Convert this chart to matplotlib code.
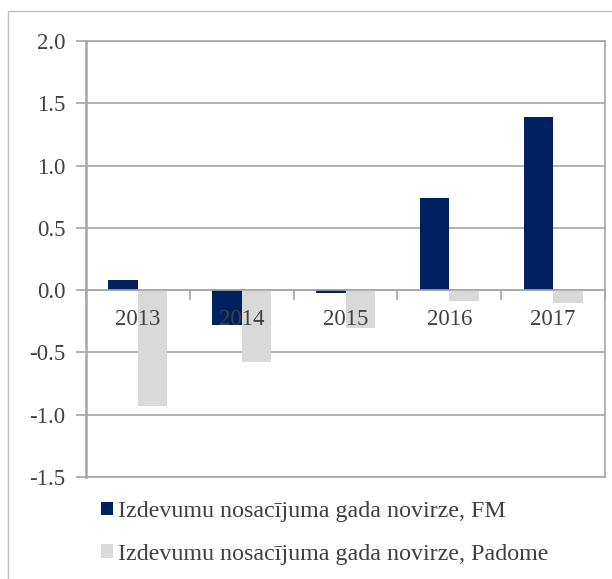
import matplotlib
matplotlib.use("Agg")
import matplotlib.pyplot as plt
import matplotlib.patches as mpatches
import numpy as np

years = ["2013", "2014", "2015", "2016", "2017"]
fm_values = [0.08, -0.28, -0.02, 0.74, 1.39]
padome_values = [-0.93, -0.58, -0.30, -0.09, -0.10]
series_labels = ["Izdevumu nosacījuma gada novirze, FM",
                 "Izdevumu nosacījuma gada novirze, Padome"]
y_ticks = [-1.5, -1.0, -0.5, 0.0, 0.5, 1.0, 1.5, 2.0]

navy = "#002060"
light = "#D9D9D9"
grid_c = "#A6A6A6"
text_c = "#404040"

plt.rcParams["font.family"] = ["Liberation Serif", "DejaVu Serif"]

fig = plt.figure(figsize=(6.12, 5.79), dpi=100)
W, H = 612, 579
ax = fig.add_axes([86 / W, 1 - 477 / H, (605 - 86) / W, (477 - 41) / H])

# figure frame
fig.patches.append(mpatches.Rectangle((8 / W, -0.05), 1.2, 1 - 11 / H + 0.05,
                                      transform=fig.transFigure, fill=False,
                                      edgecolor="#BFBFBF", linewidth=1.0))

x = np.arange(len(years))
bw = 0.284
ax.bar(x - bw / 2, fm_values, bw, color=navy, zorder=2, label=series_labels[0])
ax.bar(x + bw / 2, padome_values, bw, color=light, zorder=2, label=series_labels[1])

ax.set_ylim(-1.5, 2.0)
ax.set_xlim(-0.5, len(years) - 0.5)
ax.set_yticks(y_ticks)
ax.set_yticklabels([f"{v:.1f}" for v in y_ticks], fontsize=16.5, color=text_c)
ax.yaxis.grid(True, color=grid_c, linewidth=1.2)
ax.set_axisbelow(True)
ax.tick_params(axis="y", direction="out", length=7, width=1.2, color=grid_c, pad=8)

# x axis at zero
ax.spines["bottom"].set_position(("data", 0))
ax.spines["bottom"].set_color(grid_c)
ax.spines["bottom"].set_linewidth(1.2)
ax.spines["bottom"].set_zorder(3)
ax.set_xticks(np.arange(len(years) + 1) - 0.5)
ax.set_xticklabels([])
ax.tick_params(axis="x", direction="out", length=7, width=1.2, color=grid_c)
for i, yl in enumerate(years):
    ax.text(i, -0.15, yl, ha="center", va="top", fontsize=16.5, color=text_c, zorder=5)

for s in ["left", "right", "top"]:
    ax.spines[s].set_color(grid_c)
    ax.spines[s].set_linewidth(1.2)
ax.spines["left"].set_linewidth(1.8)
# bottom border line at -1.5
ax.axhline(-1.5, color=grid_c, linewidth=1.2, zorder=3, clip_on=False)

fig.legend(loc="upper left", bbox_to_anchor=(101 / W, 1 - 501 / H), frameon=False,
           fontsize=17.25, handlelength=0.5, handleheight=0.5, handletextpad=0.2,
           labelspacing=0.9, labelcolor=text_c, borderpad=0, borderaxespad=0)

fig.savefig("out.png", dpi=100)
